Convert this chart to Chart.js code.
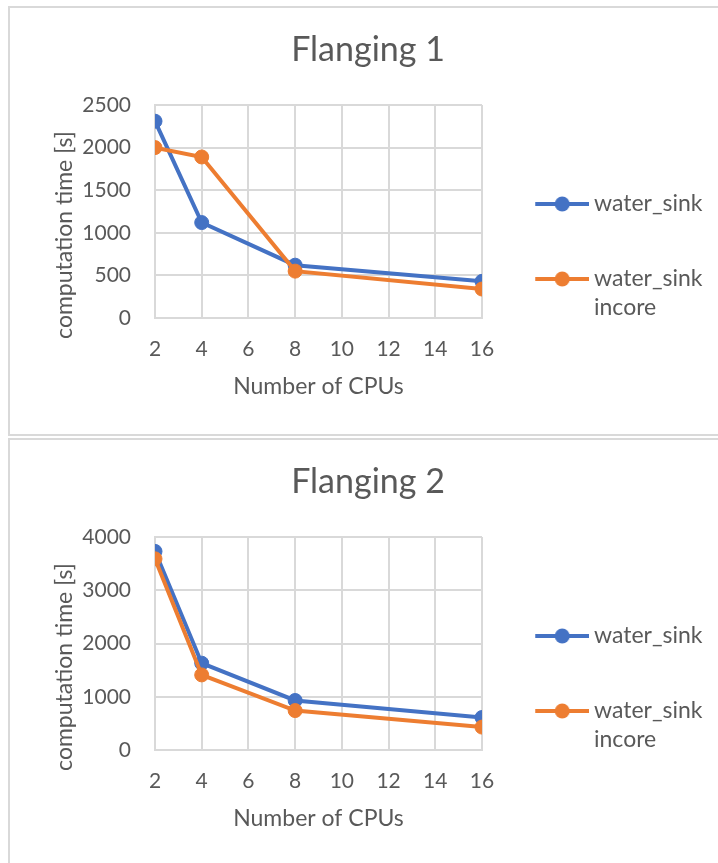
<!DOCTYPE html>
<html>
<head>
<meta charset="utf-8">
<script src="https://cdn.jsdelivr.net/npm/chart.js@4.4.0/dist/chart.umd.min.js"></script>
<style>
  html, body { margin: 0; padding: 0; background: #fff; overflow: hidden; }
  .box { position: absolute; left: 8px; width: 716px; height: 426px; border: 2px solid #d9d9d9; background: #fff; }
  #box1 { top: 6px; }
  #box2 { top: 438px; }
  canvas { display: block; }
</style>
</head>
<body>
<div class="box" id="box1"><canvas id="chart1"></canvas></div>
<div class="box" id="box2"><canvas id="chart2"></canvas></div>
<script>
// data
const cpus = [2, 4, 8, 16];
const seriesNames = ['water_sink', 'water_sink incore'];
const flanging1Sink = [2310, 1120, 620, 430];
const flanging1Incore = [2000, 1890, 550, 340];
const flanging2Sink = [3730, 1630, 930, 610];
const flanging2Incore = [3590, 1410, 740, 430];
const xTicks = [2, 4, 6, 8, 10, 12, 14, 16];
const yTicks1 = [0, 500, 1000, 1500, 2000, 2500];
const yTicks2 = [0, 1000, 2000, 3000, 4000];

const FONT = 'Lato, "Open Sans", sans-serif';
const TEXT = '#595959';
const GRID = '#d9d9d9';
const colors = ['#4472C4', '#ED7D31'];

Chart.defaults.font.family = FONT;
Chart.defaults.color = TEXT;

// line + dot legend marker (drawn a bit right of the image centre)
function legendSymbol(color) {
  const c = document.createElement('canvas');
  c.width = 62;
  c.height = 16;
  const g = c.getContext('2d');
  g.strokeStyle = color;
  g.lineWidth = 4;
  g.beginPath();
  g.moveTo(8, 8);
  g.lineTo(62, 8);
  g.stroke();
  g.fillStyle = color;
  g.beginPath();
  g.arc(35, 8, 7.5, 0, Math.PI * 2);
  g.fill();
  return c;
}
const symbols = colors.map(legendSymbol);

function toPoints(values) {
  return cpus.map((c, i) => ({ x: c, y: values[i] }));
}

function makeChart(id, title, sink, incore, yTicks) {
  const series = [sink, incore];
  return new Chart(document.getElementById(id), {
    type: 'line',
    data: {
      datasets: series.map((vals, i) => ({
        label: seriesNames[i],
        data: toPoints(vals),
        borderColor: colors[i],
        backgroundColor: colors[i],
        pointBackgroundColor: colors[i],
        pointBorderColor: colors[i],
        borderWidth: 4,
        pointRadius: 7,
        pointBorderWidth: 1,
        tension: 0,
        order: i === 0 ? 1 : 0
      }))
    },
    options: {
      responsive: true,
      maintainAspectRatio: false,
      animation: false,
      layout: { padding: { top: 0, left: 20, right: 20, bottom: 0 } },
      plugins: {
        title: {
          display: true,
          text: title,
          color: TEXT,
          font: { family: FONT, size: 34, weight: 'normal' },
          padding: { top: 21.6, bottom: 34.6 }
        },
        legend: {
          position: 'right',
          align: 'center',
          maxWidth: 224,
          title: { display: true, text: '', padding: { top: 61.6, bottom: 0 } },
          labels: {
            usePointStyle: true,
            pointStyleWidth: 48.5,
            padding: 52,
            color: TEXT,
            font: { family: FONT, size: 23, lineHeight: 29 / 23 },
            generateLabels(chart) {
              const items = Chart.defaults.plugins.legend.labels.generateLabels(chart);
              items.sort((a, b) => a.datasetIndex - b.datasetIndex);
              items.forEach(it => {
                const name = seriesNames[it.datasetIndex];
                it.text = name.includes(' ') ? name.split(' ') : name;
                it.pointStyle = symbols[it.datasetIndex];
              });
              return items;
            }
          }
        },
        tooltip: { enabled: false }
      },
      scales: {
        x: {
          type: 'linear',
          min: xTicks[0],
          max: xTicks[xTicks.length - 1],
          afterBuildTicks: s => { s.ticks = xTicks.map(v => ({ value: v })); },
          afterFit: s => { s.height = 116; },
          grid: { color: GRID, lineWidth: 2, drawTicks: false },
          border: { color: GRID, width: 2 },
          ticks: { padding: 19, color: TEXT, font: { size: 21 }, autoSkip: false, maxRotation: 0 },
          title: { display: true, text: 'Number of CPUs', color: TEXT, font: { size: 23 }, padding: { top: 0, bottom: 33.2 } }
        },
        y: {
          min: yTicks[0],
          max: yTicks[yTicks.length - 1],
          afterBuildTicks: s => { s.ticks = yTicks.map(v => ({ value: v })); },
          afterFit: s => { s.width = 125; },
          grid: { color: GRID, lineWidth: 2, drawTicks: false },
          border: { color: GRID, width: 2 },
          ticks: { padding: 24, color: TEXT, font: { size: 21 }, callback: v => String(v) },
          title: { display: true, text: 'computation time [s]        ', color: TEXT, font: { size: 23 }, padding: { top: 21.2, bottom: 0 } }
        }
      }
    }
  });
}

makeChart('chart1', 'Flanging 1', flanging1Sink, flanging1Incore, yTicks1);
makeChart('chart2', 'Flanging 2', flanging2Sink, flanging2Incore, yTicks2);
</script>
</body>
</html>
